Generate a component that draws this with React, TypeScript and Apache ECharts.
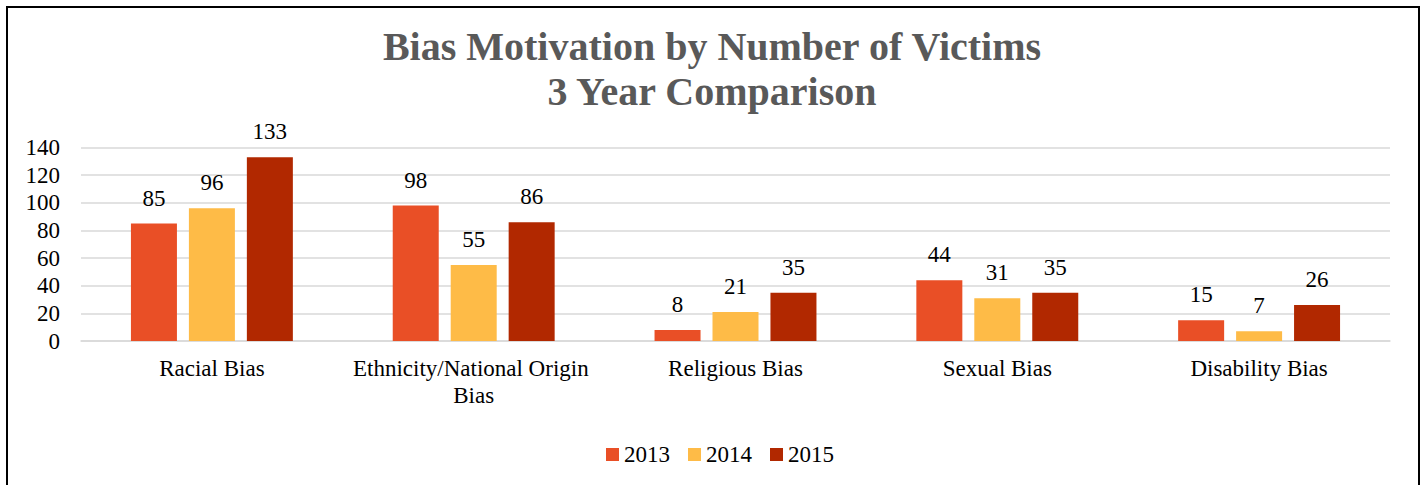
import React, { useEffect, useRef } from "react";
import * as echarts from "echarts";

const categories = [
  "Racial Bias",
  "Ethnicity/National Origin Bias",
  "Religious Bias",
  "Sexual Bias",
  "Disability Bias",
];
const years = ["2013", "2014", "2015"];
const values2013 = [85, 98, 8, 44, 15];
const values2014 = [96, 55, 21, 31, 7];
const values2015 = [133, 86, 35, 35, 26];
const yearColors = ["#E94F26", "#FEBB47", "#B12800"];
const titleText = "Bias Motivation by Number of Victims\n3 Year Comparison";

const FONT = "Liberation Serif";

export default function App() {
  const ref = useRef<HTMLDivElement>(null);
  useEffect(() => {
    if (!ref.current) return;
    const chart = echarts.init(ref.current, undefined, { renderer: "svg" });
    const seriesData = [values2013, values2014, values2015];
    chart.setOption({
      animation: false,
      backgroundColor: "transparent",
      textStyle: { fontFamily: FONT },
      title: {
        text: titleText,
        left: "center",
        top: 24,
        padding: 0,
        textStyle: {
          fontFamily: FONT,
          fontWeight: "bold",
          fontSize: 40,
          lineHeight: 45,
          color: "#595959",
        },
      },
      legend: {
        data: years,
        left: 601,
        top: 438,
        itemWidth: 13,
        itemHeight: 13,
        itemGap: 18,
        selectedMode: false,
        icon: "rect",
        textStyle: { fontFamily: FONT, fontSize: 23, color: "#000" },
      },
      grid: { left: 81, right: 34, top: 147.5, bottom: 144, containLabel: false },
      xAxis: {
        type: "category",
        data: categories,
        axisLine: { show: true, lineStyle: { color: "#d9d9d9", width: 1.5 } },
        axisTick: { show: false },
        axisLabel: {
          fontFamily: FONT,
          fontSize: 23,
          color: "#000",
          margin: 14,
          lineHeight: 27,
          width: 255,
          overflow: "break",
          interval: 0,
        },
      },
      yAxis: {
        type: "value",
        min: 0,
        max: 140,
        interval: 20,
        axisLine: { show: false },
        axisTick: { show: false },
        splitLine: { lineStyle: { color: "#d9d9d9", width: 1.5 } },
        axisLabel: { fontFamily: FONT, fontSize: 23, color: "#000", margin: 21 },
      },
      series: years.map((y, i) => ({
        name: y,
        type: "bar",
        data: seriesData[i],
        barWidth: 46,
        barGap: "26%",
        itemStyle: { color: yearColors[i] },
        label: {
          show: true,
          position: "top",
          distance: 14,
          fontFamily: FONT,
          fontSize: 23,
          color: "#000",
        },
      })),
    });
    return () => chart.dispose();
  }, []);
  return (
    <div style={{ position: "fixed", left: 0, top: 0, width: 1424, height: 485, background: "#fff" }}>
      <div
        style={{
          position: "absolute",
          left: 6,
          top: 6,
          width: 1414,
          height: 490,
          boxSizing: "border-box",
          borderLeft: "2px solid #000",
          borderTop: "2px solid #000",
          borderRight: "2px solid #000",
        }}
      />
      <div ref={ref} style={{ position: "absolute", left: 0, top: 0, width: 1424, height: 485 }} />
    </div>
  );
}
